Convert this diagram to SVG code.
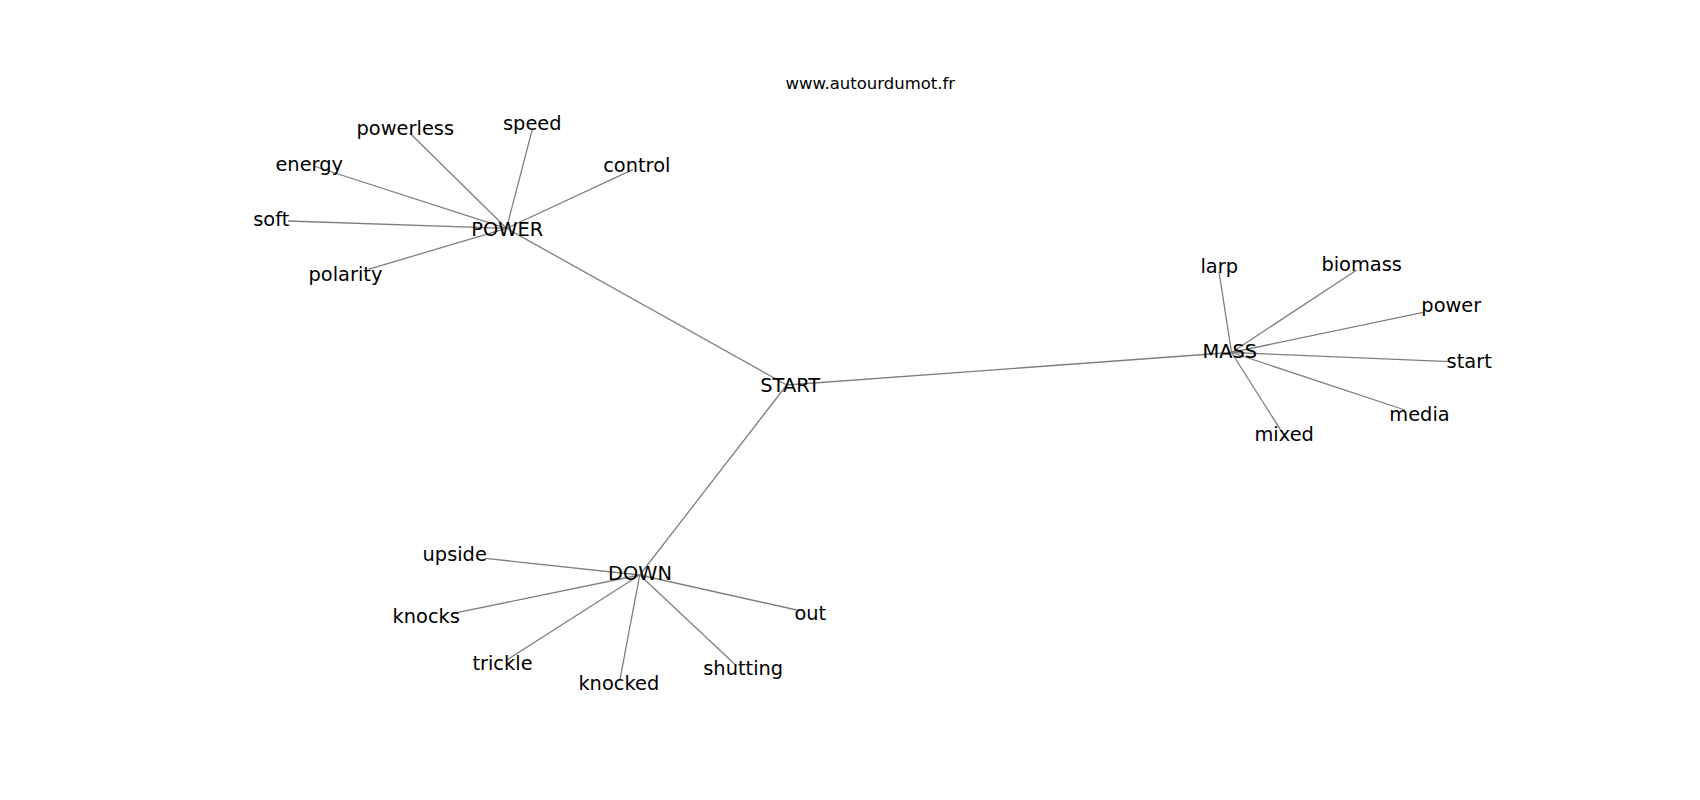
<svg xmlns="http://www.w3.org/2000/svg" width="1700" height="800" viewBox="0 0 1700 800">
<style>
  .edge { stroke: #7f7f7f; stroke-width: 1.3; fill: none; }
  .lbl { font-family: "DejaVu Sans", "Liberation Sans", sans-serif; font-size: 19.4px; fill: #000; text-anchor: middle; }
  .title { font-family: "DejaVu Sans", "Liberation Sans", sans-serif; font-size: 16.5px; fill: #000; text-anchor: middle; }
</style>
<rect width="1700" height="800" fill="#ffffff"/>
<g id="connectors">
  <line class="edge" x1="506.5" y1="228.3" x2="410" y2="133.3"/>
  <line class="edge" x1="506.5" y1="228.3" x2="532.3" y2="129.3"/>
  <line class="edge" x1="506.5" y1="228.3" x2="633.3" y2="169.3"/>
  <line class="edge" x1="506.5" y1="228.3" x2="313.3" y2="166"/>
  <line class="edge" x1="506.5" y1="228.3" x2="288" y2="221"/>
  <line class="edge" x1="506.5" y1="228.3" x2="368.3" y2="269.3"/>
  <line class="edge" x1="506.5" y1="228.3" x2="786.7" y2="385"/>
  <line class="edge" x1="786.7" y1="385" x2="1231.5" y2="352.5"/>
  <line class="edge" x1="786.7" y1="385" x2="639.7" y2="575"/>
  <line class="edge" x1="1231.5" y1="352.5" x2="1219" y2="271.7"/>
  <line class="edge" x1="1231.5" y1="352.5" x2="1356.7" y2="270"/>
  <line class="edge" x1="1231.5" y1="352.5" x2="1423.3" y2="312.3"/>
  <line class="edge" x1="1231.5" y1="352.5" x2="1450" y2="361.7"/>
  <line class="edge" x1="1231.5" y1="352.5" x2="1405" y2="410"/>
  <line class="edge" x1="1231.5" y1="352.5" x2="1281.7" y2="431.7"/>
  <line class="edge" x1="639.7" y1="575" x2="485" y2="558.3"/>
  <line class="edge" x1="639.7" y1="575" x2="456.7" y2="612.7"/>
  <line class="edge" x1="639.7" y1="575" x2="506.7" y2="660"/>
  <line class="edge" x1="639.7" y1="575" x2="620" y2="679.3"/>
  <line class="edge" x1="639.7" y1="575" x2="736.7" y2="666"/>
  <line class="edge" x1="639.7" y1="575" x2="796.7" y2="610"/>
</g>
<text class="title" x="870.3" y="88.5">www.autourdumot.fr</text>
<g id="node-POWER"><text class="lbl" x="507.3" y="235.7">POWER</text></g>
<g id="node-START"><text class="lbl" x="790.2" y="391.7">START</text></g>
<g id="node-MASS"><text class="lbl" x="1229.8" y="358.3">MASS</text></g>
<g id="node-DOWN"><text class="lbl" x="640" y="580.3">DOWN</text></g>
<g id="node-powerless"><text class="lbl" x="405.3" y="135">powerless</text></g>
<g id="node-speed"><text class="lbl" x="532.3" y="130">speed</text></g>
<g id="node-control"><text class="lbl" x="636.8" y="172.3">control</text></g>
<g id="node-energy"><text class="lbl" x="309.2" y="171">energy</text></g>
<g id="node-soft"><text class="lbl" x="271.3" y="225.7">soft</text></g>
<g id="node-polarity"><text class="lbl" x="345.5" y="280.7">polarity</text></g>
<g id="node-larp"><text class="lbl" x="1219.2" y="272.7">larp</text></g>
<g id="node-biomass"><text class="lbl" x="1361.7" y="271">biomass</text></g>
<g id="node-power"><text class="lbl" x="1451.3" y="312.3">power</text></g>
<g id="node-start"><text class="lbl" x="1469.2" y="367.7">start</text></g>
<g id="node-media"><text class="lbl" x="1419.5" y="421">media</text></g>
<g id="node-mixed"><text class="lbl" x="1284.2" y="441">mixed</text></g>
<g id="node-upside"><text class="lbl" x="454.7" y="560.7">upside</text></g>
<g id="node-knocks"><text class="lbl" x="426.2" y="622.7">knocks</text></g>
<g id="node-trickle"><text class="lbl" x="502.5" y="670">trickle</text></g>
<g id="node-knocked"><text class="lbl" x="618.8" y="690">knocked</text></g>
<g id="node-shutting"><text class="lbl" x="743.2" y="675">shutting</text></g>
<g id="node-out"><text class="lbl" x="810.3" y="620">out</text></g>
</svg>
